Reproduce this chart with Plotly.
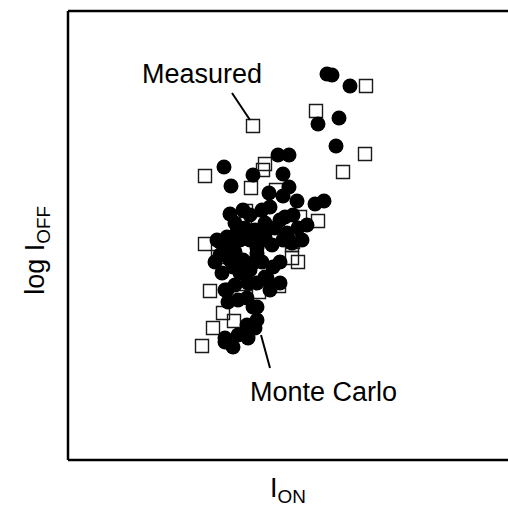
import plotly.graph_objects as go

# Values (arbitrary units: I_ON horizontal, log I_OFF vertical)
mc_ion = [259, 264, 282, 250, 271, 268,
          156, 163, 185, 210, 221, 215, 201, 221, 215, 229, 247, 256,
          202, 194, 175, 162, 167, 169, 197, 239, 225, 217, 212, 219, 234, 215, 195, 197, 149, 159, 172, 162, 189,
          152, 162, 175, 165, 185, 189, 154, 189, 172, 159, 189, 157, 170, 179, 189, 189, 187, 157, 170, 180, 165, 157,
          160, 199, 212, 212, 205, 197, 177, 182, 185, 179, 224,
          152, 167, 180, 167, 182, 187, 177, 207, 230, 204, 182, 147, 194, 202]
mc_logoff = [386, 385, 374, 336, 342, 314,
             293, 274, 285, 305, 305, 286, 267, 273, 264, 259, 256, 259,
             253, 250, 250, 246, 237, 228, 237, 235, 245, 243, 240, 227, 220, 220, 220, 223, 220, 223, 220, 213, 212,
             218, 200, 200, 193, 197, 207, 187, 203, 187, 170, 177, 170, 160, 162, 153, 140, 132, 122, 125, 122, 113, 118,
             158, 182, 177, 198, 193, 183, 197, 190, 153, 135, 217,
             205, 208, 177, 175, 245, 230, 232, 232, 232, 215, 220, 198, 198, 170]

meas_ion = [298, 248, 297, 275, 185, 137, 183, 197, 195, 208, 178, 190, 250, 232, 225,
            137, 150, 142, 177, 191, 155, 166, 145, 134, 224, 230, 211, 224]
meas_logoff = [374, 349, 306, 288, 334, 284, 272, 296, 290, 270, 249, 237, 239, 243, 218,
               216, 203, 169, 176, 168, 147, 139, 132, 114, 202, 198, 174, 215]

INK = "#000000"

fig = go.Figure()
fig.add_trace(go.Scatter(
    x=meas_ion, y=meas_logoff, mode="markers", name="Measured",
    marker=dict(symbol="square-open", size=13, color="#1a1a1a", line=dict(width=1.4, color="#1a1a1a")),
    hoverinfo="skip"))
fig.add_trace(go.Scatter(
    x=mc_ion, y=mc_logoff, mode="markers", name="Monte Carlo",
    marker=dict(symbol="circle", size=15, color=INK, line=dict(width=0)),
    hoverinfo="skip"))

font_main = dict(family="Liberation Sans, Arial, sans-serif", size=27, color=INK)

fig.add_annotation(x=134, y=386, text="Measured", showarrow=False, font=font_main)
fig.add_annotation(x=255, y=68, text="Monte Carlo", showarrow=False, font=font_main)

# axis titles
fig.add_annotation(xref="paper", yref="paper", x=0.5, y=-0.067, yanchor="middle",
                   text="I<sub>ON</sub>", showarrow=False, font=font_main)
fig.add_annotation(xref="paper", yref="paper", x=-0.0705, y=0.468, xanchor="center", yanchor="middle",
                   textangle=-90, text="log I<sub>OFF</sub>", showarrow=False, font=font_main)

# leader lines
fig.add_shape(type="line", x0=164, y0=367, x1=182, y1=340, line=dict(color=INK, width=2))
fig.add_shape(type="line", x0=193, y0=125, x1=202, y1=92, line=dict(color=INK, width=2))

# frame: left, top, bottom (right side runs off the page)
frame = dict(color=INK, width=2.5)
fig.add_shape(type="line", xref="paper", yref="paper", x0=0, y0=0, x1=0, y1=1, line=frame)
fig.add_shape(type="line", xref="paper", yref="paper", x0=0, y0=1, x1=1.05, y1=1, line=frame)
fig.add_shape(type="line", xref="paper", yref="paper", x0=0, y0=0, x1=1.05, y1=0, line=frame)

fig.update_layout(
    width=508, height=520,
    margin=dict(l=68, r=0, t=11, b=60, autoexpand=False),
    paper_bgcolor="white", plot_bgcolor="white",
    showlegend=False,
    xaxis=dict(range=[0, 440], showgrid=False, zeroline=False, showticklabels=False, ticks="",
               showline=False, automargin=False),
    yaxis=dict(range=[0, 449], showgrid=False, zeroline=False, showticklabels=False, ticks="",
               showline=False, automargin=False),
)

fig.write_html("out.html", config={"displayModeBar": False},
               post_script="document.body.style.margin='0';document.body.style.overflow='hidden';")
